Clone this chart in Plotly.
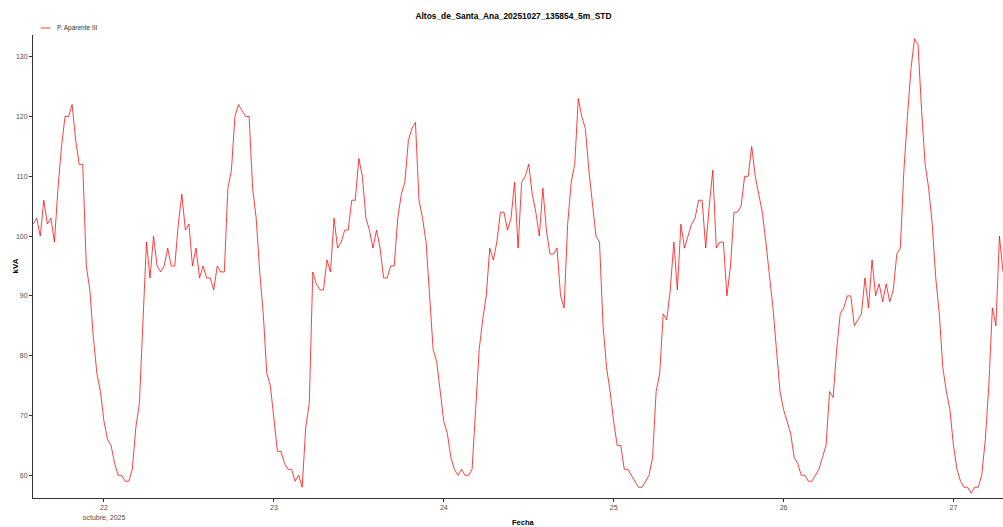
import pandas as pd
import plotly.graph_objects as go

start_time = "2025-10-21 14:00"
interval = "30min"

kva_values = [
    102, 103, 100, 106, 102, 103, 99, 108, 115, 120, 120, 122, 116, 112, 112, 95, 91, 83, 77, 74,
    69, 66, 65, 62, 60, 60, 59, 59, 61, 68, 72, 85, 99, 93, 100, 95, 94, 95, 98, 95,
    95, 102, 107, 101, 102, 95, 98, 93, 95, 93, 93, 91, 95, 94, 94, 108, 111, 120, 122, 121,
    120, 120, 108, 103, 94, 87, 77, 75, 69, 64, 64, 62, 61, 61, 59, 60, 58, 68, 72, 94,
    92, 91, 91, 96, 94, 103, 98, 99, 101, 101, 106, 106, 113, 110, 103, 101, 98, 101, 98, 93,
    93, 95, 95, 103, 107, 109, 116, 118, 119, 106, 103, 99, 90, 81, 79, 74, 69, 67, 63, 61,
    60, 61, 60, 60, 61, 71, 81, 86, 90, 98, 96, 99, 104, 104, 101, 103, 109, 98, 109, 110,
    112, 107, 104, 100, 108, 101, 97, 97, 98, 90, 88, 102, 109, 112, 123, 120, 118, 111, 105, 100,
    99, 85, 78, 74, 69, 65, 65, 61, 61, 60, 59, 58, 58, 59, 60, 63, 74, 77, 87, 86,
    91, 99, 91, 102, 98, 100, 102, 103, 106, 106, 98, 105, 111, 98, 99, 99, 90, 95, 104, 104,
    105, 110, 110, 115, 110, 107, 104, 99, 94, 88, 81, 74, 71, 69, 67, 63, 62, 60, 60, 59,
    59, 60, 61, 63, 65, 74, 73, 81, 87, 88, 90, 90, 85, 86, 87, 93, 88, 96, 90, 92,
    89, 92, 89, 91, 97, 98, 111, 120, 128, 133, 132, 121, 112, 108, 102, 93, 87, 78, 74, 71,
    65, 61, 59, 58, 58, 57, 58, 58, 60, 66, 75, 88, 85, 100, 94,
]

x_tick_dates = ["2025-10-22", "2025-10-23", "2025-10-24", "2025-10-25", "2025-10-26", "2025-10-27"]
x_tick_labels = ["22<br>octubre, 2025", "23", "24", "25", "26", "27"]
y_tick_values = [60, 70, 80, 90, 100, 110, 120, 130]

series_name = "P. Aparente III"
title_text = "Altos_de_Santa_Ana_20251027_135854_5m_STD"
x_title = "Fecha"
y_title = "kVA"

line_color = "rgba(255,0,0,0.75)"

timestamps = pd.date_range(start_time, periods=len(kva_values), freq=interval)

font_family = "Liberation Sans, Arial, sans-serif"

W, H = 1003, 527
ML, MR, MT, MB = 32.5, 0, 35, 29
PW, PH = W - ML - MR, H - MT - MB


def px(sx):
    return (sx - ML) / PW


def py(sy):
    return 1 - (sy - MT) / PH


fig = go.Figure()
fig.add_trace(go.Scatter(
    x=timestamps, y=kva_values, mode="lines", name=series_name,
    line=dict(color=line_color, width=1), showlegend=False,
))

fig.update_layout(
    width=W, height=H,
    margin=dict(l=ML, r=MR, t=MT, b=MB),
    plot_bgcolor="white", paper_bgcolor="white",
    font=dict(family=font_family, size=8, color="#4d4d4d"),
    title=dict(text="<b>" + title_text + "</b>", x=513.5 / W, xanchor="center",
               y=1 - 15.7 / H, yanchor="middle",
               font=dict(size=8.4, color="black", family=font_family)),
    showlegend=False,
)

# legend (custom: short line sample + label)
fig.add_shape(type="line", xref="paper", yref="paper",
              x0=px(40), x1=px(50), y0=py(28), y1=py(28),
              line=dict(color=line_color, width=1))
fig.add_annotation(text=series_name, xref="paper", yref="paper",
                   x=px(54.5), y=py(28), xanchor="left", yanchor="middle",
                   showarrow=False, font=dict(size=6.5, color="#333333"))

# axis titles
fig.add_annotation(text="<b>" + y_title + "</b>", xref="paper", yref="paper",
                   x=px(14), y=py(266), xanchor="center", yanchor="middle",
                   textangle=-90, showarrow=False,
                   font=dict(size=8, color="black"))
fig.add_annotation(text="<b>" + x_title + "</b>", xref="paper", yref="paper",
                   x=px(523), y=py(522.5), xanchor="center", yanchor="middle",
                   showarrow=False, font=dict(size=7.5, color="black"))

fig.update_xaxes(
    range=["2025-10-21 13:58:20", "2025-10-27 07:00"],
    tickvals=x_tick_dates, ticktext=x_tick_labels,
    showgrid=False, zeroline=False,
    showline=True, linecolor="#333333", linewidth=1,
    ticks="outside", ticklen=3, tickcolor="#333333",
    tickfont=dict(size=7, color="#4d4d4d"),
    automargin=False,
)
fig.update_yaxes(
    range=[56.2, 133.63],
    tickvals=y_tick_values,
    showgrid=False, zeroline=False,
    showline=True, linecolor="#333333", linewidth=1,
    ticks="outside", ticklen=3, tickcolor="#333333",
    tickfont=dict(size=7, color="#4d4d4d"),
    automargin=False,
)

fig.write_html(
    "out.html",
    config={"displayModeBar": False},
    post_script="document.body.style.margin='0';document.body.style.overflow='hidden';",
)
